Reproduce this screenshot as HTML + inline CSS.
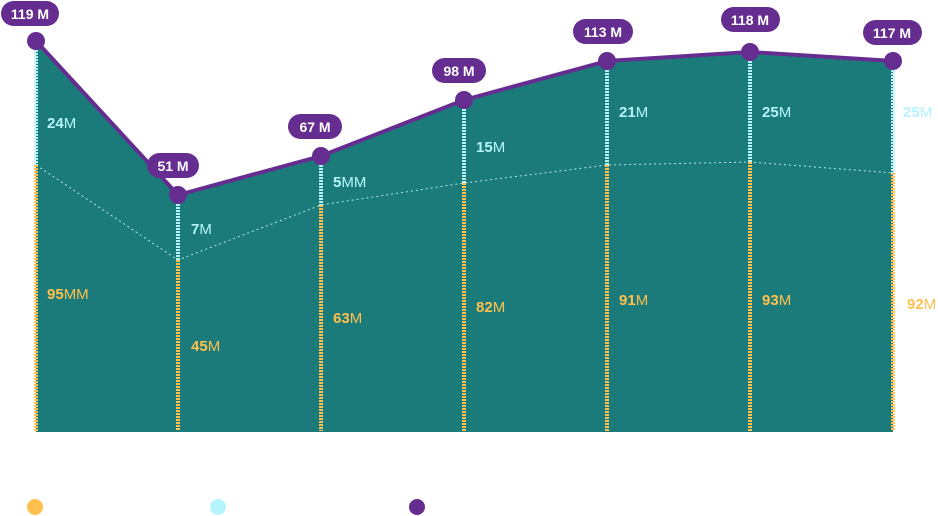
<!DOCTYPE html>
<html><head><meta charset="utf-8"><style>
html,body{margin:0;padding:0;background:#fff;}
svg{display:block;font-family:"Liberation Sans",sans-serif;}
</style></head><body>
<svg width="938" height="516" viewBox="0 0 938 516" xmlns="http://www.w3.org/2000/svg">
<polygon fill="#1b7b7b" points="36,41 178,195 321,156 464,100 607,61 750,52 893,61 893,432 36,432"/>
<polyline fill="none" stroke="#b8e8e8" stroke-width="1" stroke-dasharray="2,3" points="36,165 178,260 321,205 464,183 607,165 750,162 893,173"/>
<g stroke-width="4" stroke-dasharray="2,1">
<g stroke="#b6f4fb">
<line x1="36" y1="41" x2="36" y2="165"/><line x1="178" y1="195" x2="178" y2="260"/><line x1="321" y1="156" x2="321" y2="205"/><line x1="464" y1="100" x2="464" y2="183"/><line x1="607" y1="61" x2="607" y2="165"/><line x1="750" y1="52" x2="750" y2="162"/><line x1="893" y1="61" x2="893" y2="173"/>
</g>
<g stroke="#ffc04d">
<line x1="36" y1="165" x2="36" y2="431"/><line x1="178" y1="260" x2="178" y2="431"/><line x1="321" y1="205" x2="321" y2="431"/><line x1="464" y1="183" x2="464" y2="431"/><line x1="607" y1="165" x2="607" y2="431"/><line x1="750" y1="162" x2="750" y2="431"/><line x1="893" y1="173" x2="893" y2="431"/>
</g></g>
<polyline fill="none" stroke="#662d91" stroke-width="4" stroke-linejoin="round" points="36,41 178,195 321,156 464,100 607,61 750,52 893,61"/>
<g fill="#662d91">
<circle cx="36" cy="41" r="9"/><circle cx="178" cy="195" r="9"/><circle cx="321" cy="156" r="9"/><circle cx="464" cy="100" r="9"/><circle cx="607" cy="61" r="9"/><circle cx="750" cy="52" r="9"/><circle cx="893" cy="61" r="9"/>
<rect x="1" y="1" width="58" height="25" rx="12.5"/>
<rect x="147" y="153" width="52" height="25" rx="12.5"/>
<rect x="288" y="114" width="54" height="25" rx="12.5"/>
<rect x="432" y="58" width="54" height="25" rx="12.5"/>
<rect x="573" y="19" width="60" height="25" rx="12.5"/>
<rect x="721" y="7" width="59" height="25" rx="12.5"/>
<rect x="863" y="20" width="59" height="25" rx="12.5"/>
</g>
<g fill="#fff" font-weight="bold" font-size="14" text-anchor="middle">
<text x="30" y="19">119 M</text><text x="173" y="171">51 M</text><text x="315" y="132">67 M</text><text x="459" y="76">98 M</text><text x="603" y="37">113 M</text><text x="750" y="25">118 M</text><text x="892" y="38">117 M</text>
</g>
<g font-size="15">
<g fill="#b6f4fb">
<text x="47" y="128"><tspan font-weight="bold">24</tspan>M</text>
<text x="191" y="234"><tspan font-weight="bold">7</tspan>M</text>
<text x="333" y="187"><tspan font-weight="bold">5</tspan>MM</text>
<text x="476" y="152"><tspan font-weight="bold">15</tspan>M</text>
<text x="619" y="117"><tspan font-weight="bold">21</tspan>M</text>
<text x="762" y="117"><tspan font-weight="bold">25</tspan>M</text>
<text x="903" y="117"><tspan font-weight="bold">25</tspan>M</text>
</g>
<g fill="#ffc04d">
<text x="47" y="299"><tspan font-weight="bold">95</tspan>MM</text>
<text x="191" y="351"><tspan font-weight="bold">45</tspan>M</text>
<text x="333" y="323"><tspan font-weight="bold">63</tspan>M</text>
<text x="476" y="312"><tspan font-weight="bold">82</tspan>M</text>
<text x="619" y="305"><tspan font-weight="bold">91</tspan>M</text>
<text x="762" y="305"><tspan font-weight="bold">93</tspan>M</text>
<text x="907" y="309"><tspan font-weight="bold">92</tspan>M</text>
</g></g>
<circle cx="35" cy="507" r="8" fill="#ffc04d"/>
<circle cx="218" cy="507" r="8" fill="#b6f4fb"/>
<circle cx="417" cy="507" r="8" fill="#662d91"/>
</svg>
</body></html>
